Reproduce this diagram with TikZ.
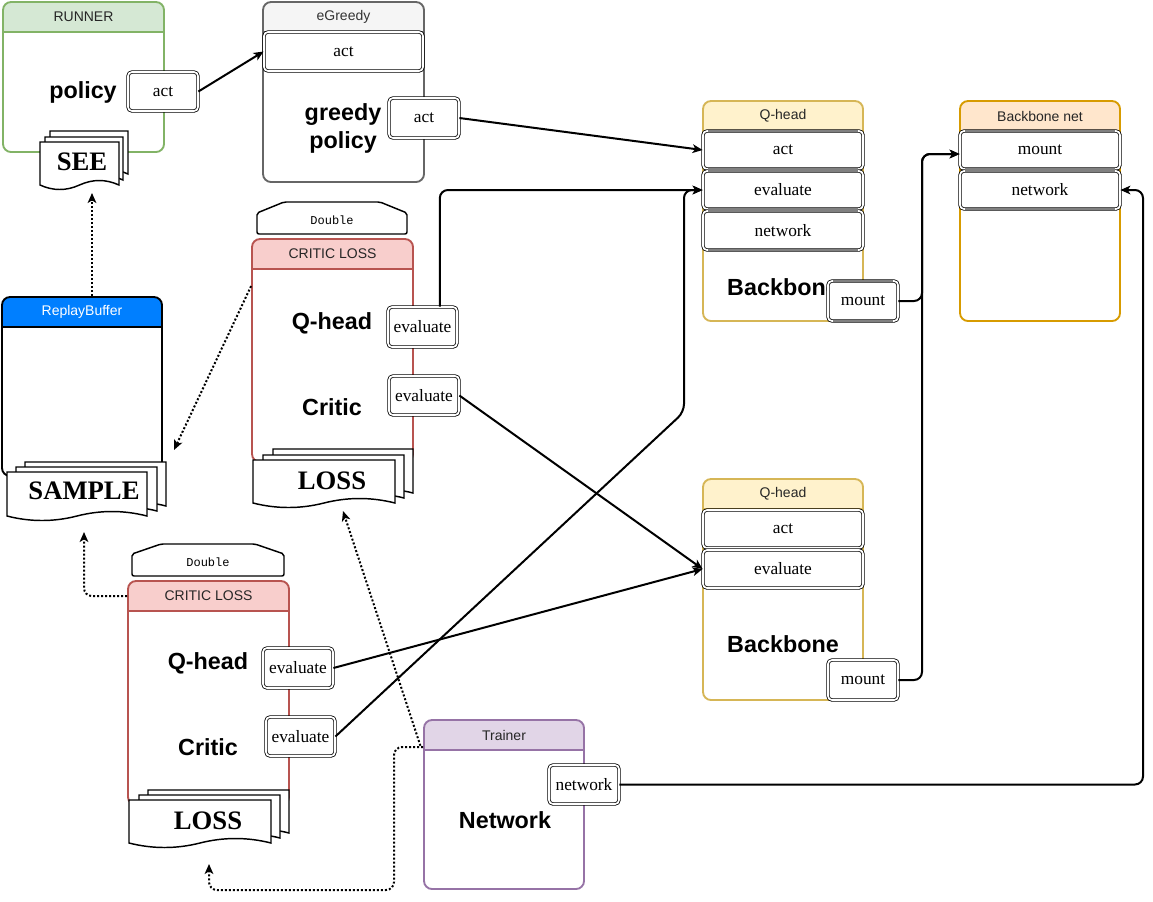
\documentclass[tikz,border=0pt]{standalone}
\usepackage{fontspec}
\setmainfont{Liberation Serif}
\setsansfont{Liberation Sans}
\setmonofont{Liberation Mono}
\usetikzlibrary{fit,arrows.meta,calc}

\definecolor{runnerFill}{HTML}{D5E8D4}\definecolor{runnerLine}{HTML}{82B366}
\definecolor{greedyFill}{HTML}{F5F5F5}\definecolor{greedyLine}{HTML}{666666}
\definecolor{qheadFill}{HTML}{FFF2CC}\definecolor{qheadLine}{HTML}{D6B656}
\definecolor{bbFill}{HTML}{FFE6CC}\definecolor{bbLine}{HTML}{D79B00}
\definecolor{lossFill}{HTML}{F8CECC}\definecolor{lossLine}{HTML}{B85450}
\definecolor{trainFill}{HTML}{E1D5E7}\definecolor{trainLine}{HTML}{9673A6}
\definecolor{bufFill}{HTML}{007FFF}
\definecolor{titleInk}{HTML}{333333}
\definecolor{bandGray}{HTML}{808080}

\tikzset{
  lanetitle/.style={font=\sffamily\fontsize{10.5}{12}\selectfont, text=black!85, inner sep=0pt},
  bigword/.style={font=\sffamily\bfseries\fontsize{17.5}{21}\selectfont, align=center, inner sep=0pt},
  dboxst/.style={draw, line width=0.6pt, double=white, double distance=1.3pt, rounded corners=3pt,
    fill=white, inner sep=0pt},
  boxtext/.style={font=\fontsize{13}{15}\selectfont, inner sep=0pt},
  doctext/.style={font=\bfseries\fontsize{20}{24}\selectfont, inner sep=0pt},
  docline/.style={draw=black, fill=white, line width=1.1pt},
  monotext/.style={font=\ttfamily\fontsize{9}{10}\selectfont, inner sep=0pt},
  conn/.style={line width=1.5pt, rounded corners=6pt, -{Stealth[length=7.5pt,width=6.5pt,inset=2pt]}},
  dotconn/.style={conn, dash pattern=on 1.5pt off 1.5pt},
}

% swimlane: name, x0, y0, x1, y1, header fill, stroke, title
\newcommand\drawlane[8]{%
  \begin{scope}
    \clip[rounded corners=6pt] (#2,#3) rectangle (#4,#5);
    \fill[white] (#2,#3) rectangle (#4,#5);
    \fill[#6] (#2,#3) rectangle (#4,{#3+30});
  \end{scope}
  \draw[#7, line width=1.4pt] (#2,{#3+30}) -- (#4,{#3+30});
  \node[fit={(#2,#3) (#4,#5)}, inner sep=0pt, draw=#7, line width=1.4pt, rounded corners=6pt] (#1) {};
  \node[lanetitle] (#1-title) at ({(#2+#4)/2},{#3+15}) {#8};
}

% double-bordered member box with its label: name, x0, y0, x1, y1, text
\newcommand\memberbox[6]{%
  \node[dboxst, fit={(#2,#3) (#4,#5)}] (#1) {};
  \node[boxtext] (#1-text) at (#1.center) {#6};
}

% one page of a document stack with a wavy lower edge: xl, yt, xr, ybase
\newcommand\drawpage[4]{%
  \pgfmathsetmacro\pagew{(#3)-(#1)}%
  \draw[docline] (#1,#2) -- (#3,#2) -- (#3,#4)
    .. controls ({#3-\pagew/6},{#4-6}) and ({#1+\pagew*2/3},{#4-6}) .. ({#1+\pagew/2},#4)
    .. controls ({#1+\pagew/3},{#4+6}) and ({#1+\pagew/6},{#4+6}) .. (#1,#4) -- cycle;
}

% loop-limit shape labelled "Double": name, x0, x1, ytop, yshoulder, ybottom, inset
\newcommand\drawdouble[7]{%
  \draw[docline, rounded corners=1.5pt] (#2,#6) -- (#2,#5) -- ({#2+#7},#4) -- ({#3-#7},#4)
    -- (#3,#5) -- (#3,#6) -- cycle;
  \node[monotext] (#1) at ({(#2+#3)/2},{(#4+#6)/2+2}) {Double};
}

% grey bands along the upper and lower edges of a member row
\newcommand\grayedges[1]{%
  \draw[bandGray, line width=1.6pt]
    ([xshift=4pt]#1.north west) -- ([xshift=-4pt]#1.north east)
    ([xshift=4pt]#1.south west) -- ([xshift=-4pt]#1.south east);
}

\begin{document}
\begin{tikzpicture}[x=0.75pt, y=-0.75pt]
\useasboundingbox (0,0) rectangle (1153,901);
\fill[white] (0,0) rectangle (1153,901);

% ---------------- RUNNER ----------------
\drawlane{runner}{3}{2}{164}{152}{runnerFill}{runnerLine}{RUNNER}
\node[bigword] (policyTxt) at (83,92) {policy};
\memberbox{runAct}{128}{72}{198}{111}{act}
\drawpage{50}{131}{128}{174}
\drawpage{45}{137}{123}{180}
\drawpage{40}{142}{119}{185}
\node[doctext] (see) at (82,162) {SEE};
\coordinate (seeTip) at (92,193);

% ---------------- eGreedy ----------------
\drawlane{egreedy}{263}{2}{424}{182}{greedyFill}{greedyLine}{\color{titleInk}eGreedy}
\memberbox{egAct}{264}{32}{423}{71}{act}
\node[bigword] (egTxt) at (343,128) {greedy\\policy};
\memberbox{egPolAct}{389}{98}{459}{138}{act}

% ---------------- Q-head (upper) ----------------
\drawlane{qhA}{703}{101}{863}{321}{qheadFill}{qheadLine}{Q-head}
\memberbox{qhAAct}{703}{131}{863}{169}{act}
\memberbox{qhAEval}{703}{171}{863}{209}{evaluate}
\memberbox{qhANet}{703}{211}{863}{250}{network}
\grayedges{qhAAct}\grayedges{qhAEval}\grayedges{qhANet}
\node[bigword] (qhATxt) at (783,287) {Backbone};
\memberbox{qhAMount}{828}{281}{898}{321}{mount}
\grayedges{qhAMount}

% ---------------- Backbone net ----------------
\drawlane{bbnet}{960}{101}{1120}{321}{bbFill}{bbLine}{Backbone net}
\memberbox{bbMount}{960}{131}{1120}{169}{mount}
\memberbox{bbNet}{960}{171}{1120}{209}{network}
\grayedges{bbMount}\grayedges{bbNet}

% ---------------- Q-head (lower) ----------------
\drawlane{qhB}{703}{479}{863}{700}{qheadFill}{qheadLine}{Q-head}
\memberbox{qhBAct}{703}{510}{863}{548}{act}
\memberbox{qhBEval}{703}{550}{863}{588}{evaluate}
\node[bigword] (qhBTxt) at (783,644) {Backbone};
\memberbox{qhBMount}{828}{660}{898}{700}{mount}

% ---------------- ReplayBuffer ----------------
\drawlane{rbuf}{2}{297}{162}{476}{bufFill}{black}{\color{white}ReplayBuffer}
\drawpage{25}{462}{166}{506}
\drawpage{16}{467}{157}{511}
\drawpage{7}{472}{147}{516}
\node[doctext] (sample) at (84,491) {SAMPLE};
\coordinate (sampleTip) at (174,450);
\coordinate (sampleLow) at (84,532);

% ---------------- CRITIC LOSS (upper) ----------------
\drawdouble{dblA}{257}{407}{202}{213}{234}{27}
\drawlane{clA}{252}{239}{413}{462}{lossFill}{lossLine}{CRITIC LOSS}
\node[bigword] (clAQTxt) at (332,323) {Q-head};
\memberbox{clAQEval}{388}{307}{457}{347}{evaluate}
\node[bigword] (clACTxt) at (332,407) {Critic};
\memberbox{clACEval}{389}{376}{459}{415}{evaluate}
\drawpage{273}{449}{413}{493}
\drawpage{263}{455}{404}{498}
\drawpage{253}{460}{395}{503}
\node[doctext] (lossA) at (332,481) {LOSS};
\coordinate (lossATip) at (343,511);

% ---------------- CRITIC LOSS (lower) ----------------
\drawdouble{dblB}{132}{284}{544}{554}{576}{29}
\drawlane{clB}{128}{581}{289}{805}{lossFill}{lossLine}{CRITIC LOSS}
\node[bigword] (clBQTxt) at (208,663) {Q-head};
\memberbox{clBQEval}{263}{648}{333}{688}{evaluate}
\node[bigword] (clBCTxt) at (208,747) {Critic};
\memberbox{clBCEval}{266}{717}{335}{756}{evaluate}
\drawpage{148}{790}{289}{833}
\drawpage{139}{795}{280}{838}
\drawpage{129}{800}{271}{843}
\node[doctext] (lossB) at (208,821) {LOSS};
\coordinate (lossBTip) at (209,864);

% ---------------- Trainer ----------------
\drawlane{trainer}{424}{720}{584}{889}{trainFill}{trainLine}{Trainer}
\node[bigword] (trTxt) at (505,820) {Network};
\memberbox{trNet}{549}{765}{619}{804}{network}

% ---------------- connectors ----------------
\coordinate (bendA) at (684,412);
\coordinate (spine) at (922,0);
\coordinate (rail) at (1143,0);
\coordinate (loopCorner) at (394,890);

\draw[conn] (runAct.east) -- (egAct.west);
\draw[conn] (egPolAct.east) -- (qhAAct.west);
\draw[conn] ([xshift=13pt]clAQEval.north) |- (qhAEval.west);
\draw[conn] (clBCEval.east) -- (bendA) |- (qhAEval.west);
\draw[conn] (clACEval.east) -- (qhBEval.west);
\draw[conn] (clBQEval.east) -- (qhBEval.west);
\draw[conn] (qhAMount.east) -| ([yshift=-3pt]spine |- bbMount.west) -- ([yshift=-3pt]bbMount.west);
\draw[conn] (qhBMount.east) -| ([yshift=-3pt]spine |- bbMount.west) -- ([yshift=-3pt]bbMount.west);
\draw[conn] (trNet.east) -| (rail |- bbNet.east) -- (bbNet.east);

\draw[dotconn] ([xshift=7.5pt]rbuf.north) -- (seeTip);
\draw[dotconn] ([yshift=-36pt]clA.north west) -- (sampleTip);
\draw[dotconn] ([yshift=-12pt]clB.north west) -| (sampleLow);
\draw[dotconn] ([xshift=-2pt,yshift=-20pt]trainer.north west) -- (lossATip);
\draw[dotconn] ([yshift=-21pt]trainer.north west) -| (loopCorner) -| (lossBTip);

\end{tikzpicture}
\end{document}
